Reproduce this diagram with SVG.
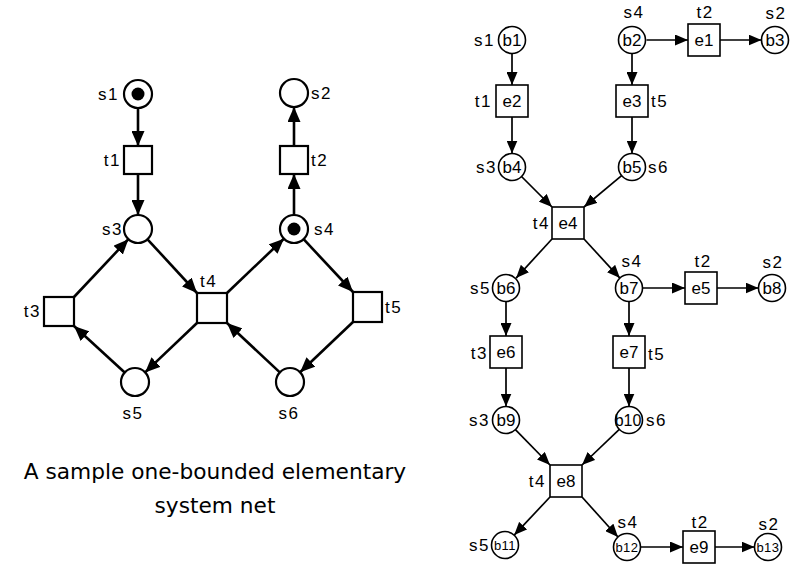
<svg xmlns="http://www.w3.org/2000/svg" width="794" height="566" viewBox="0 0 794 566">
<defs>
<style>
.pl{fill:#fff;stroke:#000;stroke-width:2.2}
.tl{fill:#fff;stroke:#000;stroke-width:2.2}
.pr{fill:#fff;stroke:#000;stroke-width:1.6}
.tr{fill:#fff;stroke:#000;stroke-width:1.6}
.tok{fill:#000}
.el{stroke:#000;stroke-width:2.6;fill:none;marker-end:url(#aL)}
.er{stroke:#000;stroke-width:1.7;fill:none;marker-end:url(#aR)}
.lL{font-family:"Liberation Sans",Arial,sans-serif;font-size:17px;fill:#000;letter-spacing:1.5px}
.lR{font-family:"Liberation Sans",Arial,sans-serif;font-size:17px;fill:#000;letter-spacing:1.5px}
.in{font-family:"Liberation Sans",Arial,sans-serif;font-size:17px;fill:#000;text-anchor:middle}
.ins{font-family:"Liberation Sans",Arial,sans-serif;font-size:13px;fill:#000;text-anchor:middle;letter-spacing:0.5px}
.cap{font-family:"DejaVu Sans",sans-serif;font-size:21.7px;fill:#000;text-anchor:middle}
.e{text-anchor:end}.m{text-anchor:middle}
</style>
<marker id="aL" markerUnits="userSpaceOnUse" markerWidth="15" markerHeight="13" refX="15" refY="6.5" orient="auto"><path d="M0,0 L15,6.5 L0,13 z" fill="#000"/></marker>
<marker id="aR" markerUnits="userSpaceOnUse" markerWidth="13" markerHeight="11" refX="13" refY="5.5" orient="auto"><path d="M0,0 L13,5.5 L0,11 z" fill="#000"/></marker>
</defs>
<rect width="794" height="566" fill="#fff"/>

<g id="connectors">
<line class="el" x1="138" y1="108" x2="138" y2="146"/>
<line class="el" x1="138" y1="174" x2="138" y2="215"/>
<line class="el" x1="294" y1="215" x2="294" y2="174"/>
<line class="el" x1="294" y1="146" x2="294" y2="107"/>
<line class="el" x1="147.5" y1="239.3" x2="197" y2="293"/>
<line class="el" x1="227" y1="293" x2="283.9" y2="238.7"/>
<line class="el" x1="303.6" y1="239.2" x2="353" y2="292"/>
<line class="el" x1="353" y1="322" x2="300.1" y2="372.3"/>
<line class="el" x1="279.8" y1="372.4" x2="227" y2="323"/>
<line class="el" x1="197" y1="323" x2="145.1" y2="372.4"/>
<line class="el" x1="124.7" y1="372.5" x2="74" y2="326"/>
<line class="el" x1="74" y1="297" x2="128.4" y2="239.2"/>

<line class="er" x1="512" y1="53.5" x2="512" y2="85"/>
<line class="er" x1="512" y1="117" x2="512" y2="153.5"/>
<line class="er" x1="632" y1="53.5" x2="632" y2="85"/>
<line class="er" x1="632" y1="117" x2="632" y2="153.5"/>
<line class="er" x1="646.5" y1="40" x2="688" y2="40"/>
<line class="er" x1="720" y1="40" x2="761.5" y2="40"/>
<line class="er" x1="521.5" y1="176.5" x2="552" y2="207"/>
<line class="er" x1="621.6" y1="175.6" x2="584" y2="207"/>
<line class="er" x1="552" y1="239" x2="516.1" y2="278.1"/>
<line class="er" x1="584" y1="239" x2="619.9" y2="278.1"/>
<line class="er" x1="642.5" y1="288" x2="685" y2="288"/>
<line class="er" x1="717" y1="288" x2="758.5" y2="288"/>
<line class="er" x1="506" y1="301.5" x2="506" y2="336"/>
<line class="er" x1="506" y1="368" x2="506" y2="406.5"/>
<line class="er" x1="629" y1="301.5" x2="629" y2="336"/>
<line class="er" x1="629" y1="368" x2="629" y2="406.5"/>
<line class="er" x1="515.4" y1="429.7" x2="550" y2="465"/>
<line class="er" x1="619.3" y1="429.3" x2="582" y2="465"/>
<line class="er" x1="550" y1="497" x2="514.2" y2="535.1"/>
<line class="er" x1="582" y1="497" x2="618" y2="537"/>
<line class="er" x1="640.5" y1="547" x2="683" y2="547"/>
<line class="er" x1="715" y1="547" x2="754.5" y2="547"/>
</g>

<!-- left net -->
<g id="s1"><circle class="pl" cx="138" cy="94" r="14"/><circle class="tok" cx="138" cy="94" r="6.5"/><text class="lL e" x="119" y="100">s1</text></g>
<g id="s2"><circle class="pl" cx="294" cy="93" r="14"/><text class="lL" x="311" y="99">s2</text></g>
<g id="t1"><rect class="tl" x="124" y="146" width="28" height="28"/><text class="lL e" x="121" y="166">t1</text></g>
<g id="t2"><rect class="tl" x="280" y="146" width="28" height="28"/><text class="lL" x="311" y="166">t2</text></g>
<g id="s3"><circle class="pl" cx="138" cy="229" r="14"/><text class="lL e" x="123" y="235">s3</text></g>
<g id="s4"><circle class="pl" cx="294" cy="229" r="14"/><circle class="tok" cx="294" cy="229" r="6.5"/><text class="lL" x="314" y="235">s4</text></g>
<g id="t3"><rect class="tl" x="44" y="297" width="30" height="29"/><text class="lL e" x="41" y="317">t3</text></g>
<g id="t4"><rect class="tl" x="197" y="293" width="30" height="30"/><text class="lL" x="200" y="287">t4</text></g>
<g id="t5"><rect class="tl" x="353" y="292" width="29" height="30"/><text class="lL" x="385" y="313">t5</text></g>
<g id="s5"><circle class="pl" cx="135" cy="382" r="14"/><text class="lL m" x="133" y="419">s5</text></g>
<g id="s6"><circle class="pl" cx="290" cy="382" r="14"/><text class="lL m" x="289" y="419">s6</text></g>

<g id="caption">
<text class="cap" x="215" y="479">A sample one-bounded elementary</text>
<text class="cap" x="215" y="513">system net</text>
</g>

<!-- right net -->
<g id="b1"><circle class="pr" cx="512" cy="40" r="13.5"/><text class="in" x="512" y="46">b1</text><text class="lR e" x="495" y="46">s1</text></g>
<g id="b2"><circle class="pr" cx="632" cy="40" r="13.5"/><text class="in" x="632" y="46">b2</text><text class="lR m" x="634" y="18">s4</text></g>
<g id="e1"><rect class="tr" x="688" y="24" width="32" height="32"/><text class="in" x="704" y="46">e1</text><text class="lR m" x="705" y="18">t2</text></g>
<g id="b3"><circle class="pr" cx="775" cy="40" r="13.5"/><text class="in" x="775" y="46">b3</text><text class="lR m" x="776" y="19">s2</text></g>
<g id="e2"><rect class="tr" x="496" y="85" width="32" height="32"/><text class="in" x="512" y="107">e2</text><text class="lR e" x="492" y="107">t1</text></g>
<g id="e3"><rect class="tr" x="616" y="85" width="32" height="32"/><text class="in" x="632" y="107">e3</text><text class="lR" x="651" y="107">t5</text></g>
<g id="b4"><circle class="pr" cx="512" cy="167" r="13.5"/><text class="in" x="512" y="173">b4</text><text class="lR e" x="497" y="173">s3</text></g>
<g id="b5"><circle class="pr" cx="632" cy="167" r="13.5"/><text class="in" x="632" y="173">b5</text><text class="lR" x="648" y="173">s6</text></g>
<g id="e4"><rect class="tr" x="552" y="207" width="32" height="32"/><text class="in" x="568" y="229">e4</text><text class="lR e" x="550" y="229">t4</text></g>
<g id="b6"><circle class="pr" cx="506" cy="288" r="13.5"/><text class="in" x="506" y="294">b6</text><text class="lR e" x="491" y="294">s5</text></g>
<g id="b7"><circle class="pr" cx="629" cy="288" r="13.5"/><text class="in" x="629" y="294">b7</text><text class="lR m" x="632" y="267">s4</text></g>
<g id="e5"><rect class="tr" x="685" y="272" width="32" height="32"/><text class="in" x="701" y="294">e5</text><text class="lR m" x="703" y="267">t2</text></g>
<g id="b8"><circle class="pr" cx="772" cy="288" r="13.5"/><text class="in" x="772" y="294">b8</text><text class="lR m" x="773" y="268">s2</text></g>
<g id="e6"><rect class="tr" x="490" y="336" width="32" height="32"/><text class="in" x="506" y="358">e6</text><text class="lR e" x="488" y="359">t3</text></g>
<g id="e7"><rect class="tr" x="613" y="336" width="32" height="32"/><text class="in" x="629" y="358">e7</text><text class="lR" x="648" y="360">t5</text></g>
<g id="b9"><circle class="pr" cx="506" cy="420" r="13.5"/><text class="in" x="506" y="426">b9</text><text class="lR e" x="490" y="426">s3</text></g>
<g id="b10"><circle class="pr" cx="629" cy="420" r="13.5"/><text class="in" x="628" y="426" style="font-size:16px">b10</text><text class="lR" x="646" y="426">s6</text></g>
<g id="e8"><rect class="tr" x="550" y="465" width="32" height="32"/><text class="in" x="566" y="487">e8</text><text class="lR e" x="546" y="487">t4</text></g>
<g id="b11"><circle class="pr" cx="505" cy="545" r="13.5"/><text class="ins" x="505" y="550">b11</text><text class="lR e" x="490" y="551">s5</text></g>
<g id="b12"><circle class="pr" cx="627" cy="547" r="13.5"/><text class="ins" x="627" y="552">b12</text><text class="lR m" x="628" y="528">s4</text></g>
<g id="e9"><rect class="tr" x="683" y="531" width="32" height="32"/><text class="in" x="699" y="553">e9</text><text class="lR m" x="700" y="528">t2</text></g>
<g id="b13"><circle class="pr" cx="768" cy="547" r="13.5"/><text class="ins" x="768" y="552">b13</text><text class="lR m" x="769" y="530">s2</text></g>
</svg>
